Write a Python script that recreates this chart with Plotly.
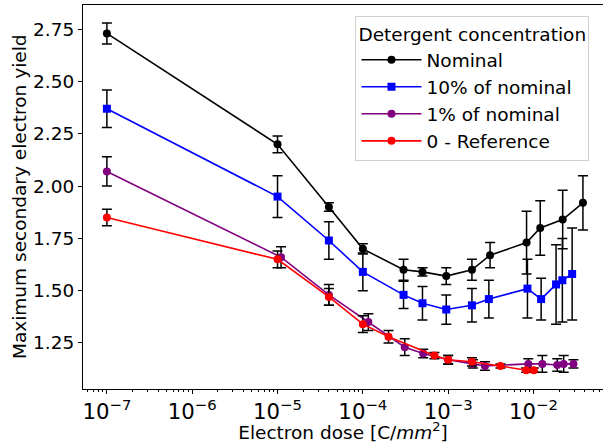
import plotly.graph_objects as go

# ---- data ----
nominal_x = [1e-7, 1e-5, 4e-5, 1e-4, 3e-4, 5e-4, 9.5e-4, 1.9e-3, 3.1e-3, 8.3e-3, 1.2e-2, 2.2e-2, 3.8e-2]
nominal_y = [2.73, 2.20, 1.90, 1.70, 1.60, 1.59, 1.57, 1.60, 1.67, 1.73, 1.80, 1.84, 1.92]
nominal_err = [0.05, 0.04, 0.02, 0.025, 0.05, 0.02, 0.04, 0.05, 0.06, 0.15, 0.13, 0.14, 0.13]

ten_x = [1e-7, 1e-5, 4e-5, 1e-4, 3e-4, 5e-4, 9.5e-4, 1.9e-3, 3e-3, 8.5e-3, 1.23e-2, 1.84e-2, 2.18e-2, 2.84e-2]
ten_y = [2.37, 1.95, 1.74, 1.59, 1.48, 1.44, 1.41, 1.43, 1.46, 1.51, 1.46, 1.53, 1.55, 1.58]
ten_err = [0.09, 0.10, 0.09, 0.09, 0.065, 0.08, 0.07, 0.08, 0.09, 0.14, 0.10, 0.19, 0.20, 0.22]

one_x = [1e-7, 1.1e-5, 4e-5, 1.16e-4, 3.1e-4, 5.1e-4, 1e-3, 1.95e-3, 2.7e-3, 8.7e-3, 1.27e-2, 1.9e-2, 2.26e-2, 2.94e-2]
one_y = [2.07, 1.66, 1.48, 1.35, 1.23, 1.20, 1.17, 1.15, 1.14, 1.15, 1.15, 1.145, 1.15, 1.15]
one_err = [0.07, 0.05, 0.05, 0.04, 0.04, 0.02, 0.02, 0.02, 0.02, 0.025, 0.04, 0.03, 0.04, 0.02]

ref_x = [1e-7, 1e-5, 4e-5, 1e-4, 2e-4, 6.9e-4, 1e-3, 1.9e-3, 4.1e-3, 8.2e-3, 1.01e-2]
ref_y = [1.85, 1.65, 1.47, 1.34, 1.28, 1.19, 1.17, 1.16, 1.14, 1.12, 1.12]
ref_err = [0.04, 0.04, 0.04, 0.04, 0.03, 0.015, 0.02, 0.02, 0.01, 0.01, 0.01]

series_names = ["Nominal", "10% of nominal", "1% of nominal", "0 - Reference"]
series_colors = ["black", "#0000ff", "#800080", "#ff0000"]
series_symbols = ["circle", "square", "circle", "circle"]
y_ticks = [1.25, 1.50, 1.75, 2.00, 2.25, 2.50, 2.75]

FONT = "DejaVu Sans"
FS = 18.5
fig = go.Figure()
for name, xs, ys, es, col, sym in zip(
        series_names,
        [nominal_x, ten_x, one_x, ref_x],
        [nominal_y, ten_y, one_y, ref_y],
        [nominal_err, ten_err, one_err, ref_err],
        series_colors, series_symbols):
    fig.add_trace(go.Scatter(
        x=xs, y=ys, name=name, mode="lines+markers",
        line=dict(color=col, width=1.6),
        marker=dict(color=col, symbol=sym, size=8, line=dict(width=0)),
        error_y=dict(type="data", array=es, visible=True, color="black",
                     thickness=1.5, width=5),
    ))

# minor ticks via overlay axis
minor_vals = [m * 10.0 ** d for d in range(-8, -1) for m in range(2, 10)]
fig.add_trace(go.Scatter(x=[1e-7], y=[None], xaxis="x2", showlegend=False,
                         hoverinfo="skip", mode="markers"))

xr = [-7.28, -1.185]
fig.update_layout(
    width=603, height=443,
    margin=dict(l=83, r=0, t=5, b=54),
    paper_bgcolor="white", plot_bgcolor="white",
    font=dict(family=FONT, size=FS, color="black"),
    xaxis=dict(type="log", range=xr, dtick=1, exponentformat="power",
               showgrid=False, zeroline=False, showline=True, linecolor="black",
               linewidth=1, mirror=True, ticks="outside", ticklen=4,
               tickwidth=1, tickcolor="black", automargin=False,
               tickfont=dict(size=17, family=FONT),
               title=dict(text="Electron dose [C/<i>mm</i><sup>2</sup>]",
                          font=dict(size=FS, family=FONT))),
    xaxis2=dict(type="log", range=xr, overlaying="x", anchor="y", side="bottom",
                tickvals=minor_vals, showticklabels=False, ticks="outside",
                ticklen=2, tickwidth=0.8, tickcolor="black", showgrid=False,
                zeroline=False, showline=False, automargin=False),
    yaxis=dict(range=[1.030, 2.866], tickvals=y_ticks, tickformat=".2f",
               showgrid=False, zeroline=False, showline=True, linecolor="black",
               linewidth=1, ticks="outside", ticklen=4, tickwidth=1,
               tickcolor="black", tickfont=dict(size=FS, family=FONT),
               automargin=False),
    annotations=[dict(text="Maximum secondary electron yield", textangle=-90,
                      xref="paper", yref="paper", x=-0.123, y=0.5,
                      xanchor="center", yanchor="middle", showarrow=False,
                      font=dict(size=FS, family=FONT))],
    legend=dict(x=0.524, y=0.971, xanchor="left", yanchor="top",
                bgcolor="rgba(255,255,255,0.8)", bordercolor="#d0d0d0",
                borderwidth=1, font=dict(size=FS, family=FONT),
                title=dict(text="Detergent concentration", font=dict(size=FS, family=FONT)),
                tracegroupgap=0, itemwidth=60),
    showlegend=True,
)
fig.write_html("out.html", config={"displayModeBar": False},
               post_script="document.body.style.margin='0';")
